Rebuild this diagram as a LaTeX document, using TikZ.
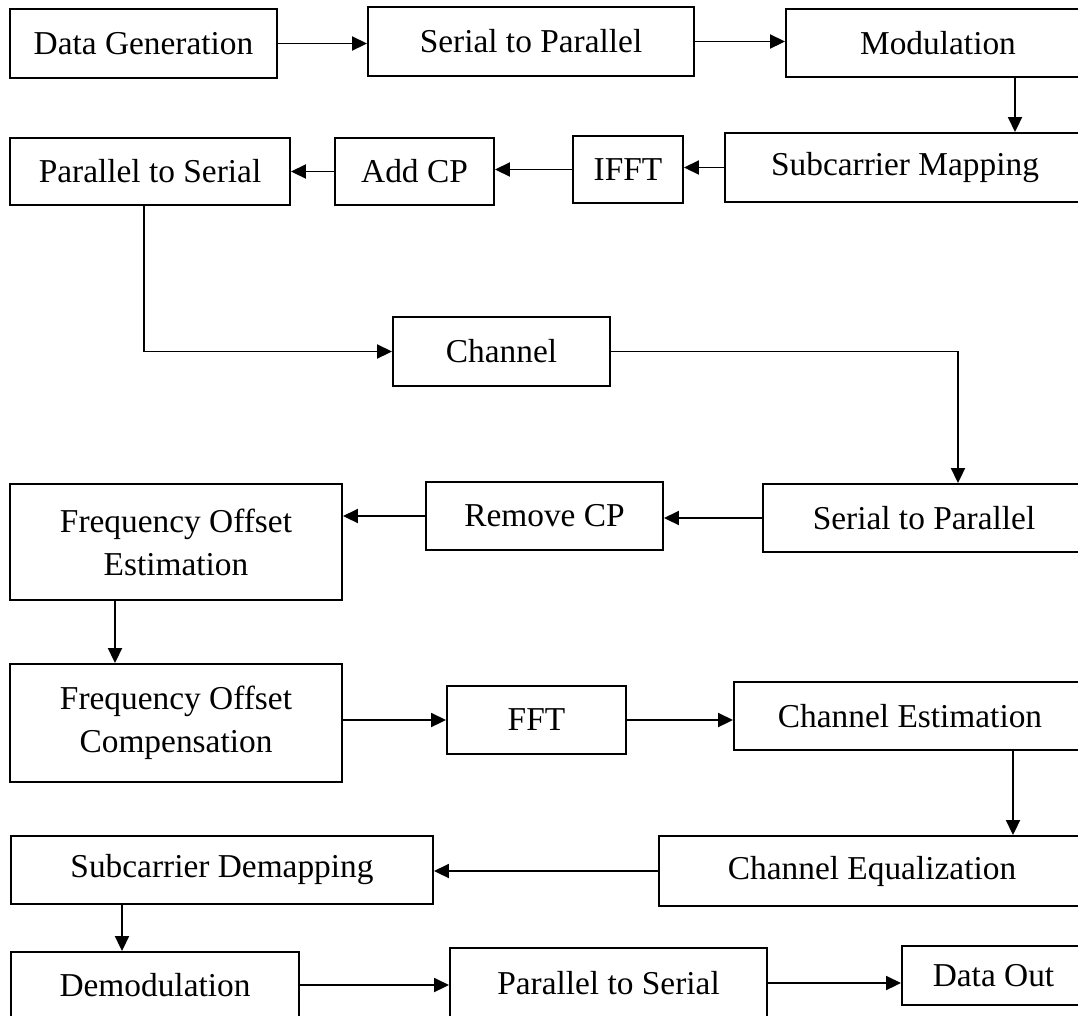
\documentclass[tikz,border=0pt]{standalone}
\usepackage{fontspec}
\setmainfont{Liberation Serif}
\usetikzlibrary{arrows.meta,positioning}

\begin{document}
\begin{tikzpicture}[
  x=0.02cm, y=-0.02cm, >=Triangle,
  blk/.style 2 args={rectangle, draw=black, line width=1.1pt, align=center,
    minimum width=#1*0.02cm, minimum height=#2*0.02cm, inner sep=0pt,
    font=\fontsize{19}{24.5}\selectfont},
  arr/.style={draw=black, line width=1.1pt, -{Triangle[length=0.3cm, width=0.28cm]}}
]

  % Frame (the reference is cut off at the right and bottom)
  \useasboundingbox (0,0) rectangle (1078,1015);
  \clip (0,0) rectangle (1078,1015);

  % ==================== TRANSMITTER ====================
  \node[blk={267}{69}] (datagen) at (143.5, 43.5) {Data Generation};
  \node[blk={326}{69}] (sertopar) at (531, 41.5) {Serial to Parallel};
  \node[blk={304}{68}] (modul) at (938, 43) {Modulation};

  \node[blk={360}{69}] (submap) at (905, 167.5) {Subcarrier Mapping};
  \node[blk={110}{67}] (ifft) at (628, 169.5) {IFFT};
  \node[blk={159}{67}] (addcp) at (414.5, 171.5) {Add CP};
  \node[blk={280}{67}] (partoser) at (150, 171.5) {Parallel to Serial};

  % Channel
  \node[blk={217}{69}] (chan) at (501.5, 351.5) {Channel};

  % ==================== RECEIVER ====================
  \node[blk={322}{68}] (sertopar2) at (924, 518) {Serial to Parallel};
  \node[blk={237}{68}] (rmcp) at (544.5, 516) {Remove CP};
  \node[blk={332}{116}] (foest) at (176, 542) {Frequency Offset\\ Estimation};

  \node[blk={332}{118}] (focomp) at (176, 723) {Frequency Offset\\ Compensation};
  \node[blk={179}{68}] (fft) at (536.5, 720) {FFT};
  \node[blk={352}{68}] (chest) at (910, 716) {Channel Estimation};

  \node[blk={426}{70}] (cheq) at (872, 871) {Channel Equalization};
  \node[blk={422}{68}] (subdemap) at (222, 870) {Subcarrier Demapping};

  \node[blk={288}{66}] (demod) at (155, 985) {Demodulation};
  \node[blk={317}{70}] (partoser2) at (608.5, 983) {Parallel to Serial};
  \node[blk={183}{59}] (dataout) at (993.5, 975.5) {Data Out};

  % ==================== CONNECTORS ====================
  \draw[arr] (datagen.east) -- (datagen.east -| sertopar.west);
  \draw[arr] (sertopar.east) -- (sertopar.east -| modul.west);
  \draw[arr] (modul.south -| 1015,0) -- (submap.north -| 1015,0);
  \draw[arr] (submap.west) -- (submap.west -| ifft.east);
  \draw[arr] (ifft.west) -- (ifft.west -| addcp.east);
  \draw[arr] (addcp.west) -- (addcp.west -| partoser.east);

  \draw[arr] (partoser.south -| 144,0) |- (chan.west);
  \draw[arr] (chan.east) -| (sertopar2.north -| 958,0);

  \draw[arr] (sertopar2.west) -- (sertopar2.west -| rmcp.east);
  \draw[arr] (rmcp.west) -- (rmcp.west -| foest.east);
  \draw[arr] (foest.south -| 115,0) -- (focomp.north -| 115,0);
  \draw[arr] (fft.west -| focomp.east) -- (fft.west);
  \draw[arr] (fft.east) -- (fft.east -| chest.west);
  \draw[arr] (chest.south -| 1013,0) -- (cheq.north -| 1013,0);
  \draw[arr] (cheq.west) -- (cheq.west -| subdemap.east);
  \draw[arr] (subdemap.south -| 122,0) -- (demod.north -| 122,0);
  \draw[arr] (demod.east) -- (demod.east -| partoser2.west);
  \draw[arr] (partoser2.east) -- (partoser2.east -| dataout.west);

\end{tikzpicture}
\end{document}
